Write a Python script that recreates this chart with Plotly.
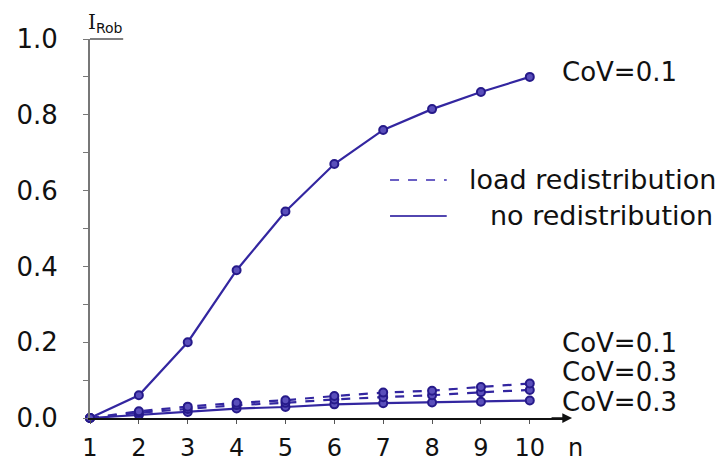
import plotly.graph_objects as go

n = [1, 2, 3, 4, 5, 6, 7, 8, 9, 10]
no_redis_cov01 = [0.0, 0.06, 0.20, 0.39, 0.545, 0.67, 0.76, 0.815, 0.86, 0.90]
redis_cov01 = [0.0, 0.018, 0.030, 0.040, 0.047, 0.058, 0.067, 0.072, 0.082, 0.091]
redis_cov03 = [0.0, 0.014, 0.024, 0.034, 0.040, 0.049, 0.055, 0.060, 0.068, 0.074]
no_redis_cov03 = [0.0, 0.008, 0.016, 0.025, 0.029, 0.036, 0.039, 0.041, 0.043, 0.046]

y_ticks = [0.0, 0.2, 0.4, 0.6, 0.8, 1.0]
y_tick_text = ["0.0", "0.2", "0.4", "0.6", "0.8", "1.0"]

LINE = "#3326a0"
MARK = "#261a8a"
FONT = "DejaVu Sans"

fig = go.Figure()

def add(y, dash):
    fig.add_trace(go.Scatter(
        x=n, y=y, mode="lines+markers",
        line=dict(color=LINE, width=2.2, dash=dash),
        marker=dict(symbol="circle", size=8, color="#5a4fbb", line=dict(width=2, color=MARK)),
        cliponaxis=False, showlegend=False,
    ))

add(no_redis_cov03, "solid")
add(redis_cov03, "dash")
add(redis_cov01, "dash")
add(no_redis_cov01, "solid")

fig.update_layout(
    width=727, height=464,
    margin=dict(l=90, r=163, t=39, b=46),
    plot_bgcolor="white", paper_bgcolor="white",
    font=dict(family=FONT, size=24, color="#111"),
    xaxis=dict(
        range=[1, 10.7], tickvals=n, ticktext=[str(v) for v in n],
        showline=True, linecolor="#111", linewidth=1.5, automargin=False,
        ticks="outside", ticklen=4, tickcolor="#555", showgrid=False, zeroline=False,
        tickfont=dict(size=24, family=FONT),
        ticklabelstandoff=3,
    ),
    yaxis=dict(
        range=[0, 1.0], tickvals=y_ticks, ticktext=y_tick_text, automargin=False,
        showline=True, linecolor="#777", linewidth=2,
        ticks="outside", ticklen=5, tickcolor="#777", showgrid=False, zeroline=False,
        tickfont=dict(size=26, family=FONT),
        minor=dict(dtick=0.1, ticks="outside", ticklen=5, tickcolor="#777"),
        ticklabelstandoff=20,
    ),
)

# arrow at the end of x axis
fig.add_annotation(x=1.017, y=0, xref="paper", yref="y", ax=-22, ay=0,
                   showarrow=True, arrowhead=2, arrowsize=1.3, arrowwidth=1.5, arrowcolor="#111", text="")
fig.add_annotation(x=1.025, y=-0.08, xref="paper", yref="paper", yanchor="middle", xanchor="center",
                   text="n", showarrow=False, font=dict(size=24, family=FONT))
# top bar on y axis and label
fig.add_shape(type="line", xref="paper", yref="paper", x0=0, x1=0.07, y0=1.0, y1=1.0,
              line=dict(color="#555", width=1.5))
fig.add_annotation(xref="paper", yref="paper", x=0.0, y=1.0, xanchor="left", yanchor="bottom", yshift=1, xshift=-4,
                   text="<span style='font-family:DejaVu Serif'>I</span><sub>Rob</sub>", showarrow=False,
                   font=dict(size=20, family=FONT))

# legend
fig.add_shape(type="line", xref="x", yref="y", x0=7.14, x1=8.3, y0=0.628, y1=0.628,
              line=dict(color="#6a5fc4", width=2, dash="dash"))
fig.add_shape(type="line", xref="x", yref="y", x0=7.14, x1=8.3, y0=0.533, y1=0.533,
              line=dict(color="#5246b0", width=2))
fig.add_annotation(xref="x", yref="y", x=8.71, y=0.628, xanchor="left", text="load redistribution",
                   showarrow=False, font=dict(size=27, family=FONT))
fig.add_annotation(xref="x", yref="y", x=9.14, y=0.533, xanchor="left", text="no redistribution",
                   showarrow=False, font=dict(size=27, family=FONT))

# CoV labels
for yv, txt in [(0.913, "CoV=0.1"), (0.198, "CoV=0.1"), (0.121, "CoV=0.3"), (0.042, "CoV=0.3")]:
    fig.add_annotation(xref="paper", yref="y", x=0.9916, y=yv, xanchor="left", text=txt,
                       showarrow=False, font=dict(size=26, family=FONT))

fig.write_html("out.html")
